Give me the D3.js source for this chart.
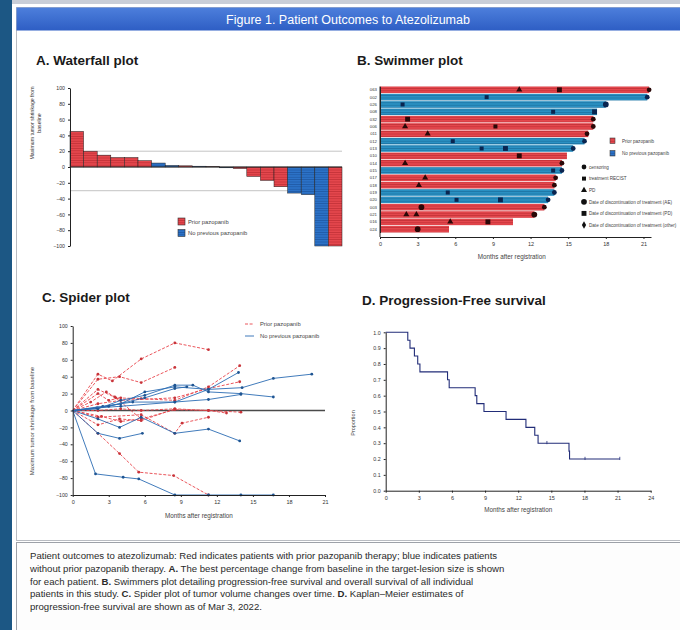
<!DOCTYPE html>
<html>
<head>
<meta charset="utf-8">
<script src="https://cdn.jsdelivr.net/npm/d3@7"></script>
<style>
    body { margin: 0; background: #fff; }
    svg { display: block; font-family: "Liberation Sans", Arial, sans-serif; }
</style>
</head>
<body>
<svg id="fig" width="680" height="630"></svg>
<script>

// ---- data ----

// A. waterfall: best % change per patient, sorted
const waterfallValues = [45, 20, 15, 12, 12, 8, 5, 2, 1.5, 1, 0.5, -1, -2, -12, -17, -25, -33, -35, -100, -100]
const waterfallGroups = ['prior', 'prior', 'prior', 'prior', 'prior', 'prior', 'none', 'none', 'prior', 'none',
    'prior', 'none', 'prior', 'prior', 'prior', 'prior', 'none', 'none', 'none', 'prior']
const waterfallTicks = [100, 80, 60, 40, 20, 0, -20, -40, -60, -80, -100]
const waterfallRefLines = [20, -30]

// B. swimmer: months on study per patient
const swimmerIds = ['063', '002', '026', '008', '032', '006', '011', '012', '013', '010',
    '014', '015', '017', '018', '019', '020', '003', '021', '016', '024']
const swimmerMonths = [21.45, 21.3, 18.0, 17.3, 17.0, 17.0, 16.6, 16.3, 15.4, 14.9,
    14.5, 14.5, 14.0, 13.9, 13.9, 13.4, 13.1, 12.3, 10.6, 5.5]
const swimmerGroups = ['prior', 'none', 'none', 'none', 'prior', 'prior', 'prior', 'none', 'none', 'prior',
    'prior', 'none', 'prior', 'prior', 'none', 'none', 'prior', 'prior', 'prior', 'prior']
const swimmerEvents = [
    [[11.1, 'pd'], [14.3, 'pdDisc'], [21.45, 'cens']],
    [[8.5, 'resp'], [21.3, 'cens']],
    [[1.8, 'resp'], [18.0, 'ae']],
    [[13.8, 'resp'], [17.1, 'pdDisc']],
    [[2.2, 'pdDisc'], [17.0, 'cens']],
    [[2.0, 'pd'], [9.2, 'resp'], [17.0, 'cens']],
    [[3.8, 'pd'], [16.5, 'cens']],
    [[5.8, 'resp'], [16.3, 'cens']],
    [[8.1, 'resp'], [10.0, 'pdDisc'], [15.4, 'cens']],
    [[11.1, 'pdDisc']],
    [[2.0, 'pd'], [14.5, 'cens']],
    [[13.8, 'resp'], [14.5, 'cens']],
    [[3.6, 'pd'], [14.0, 'cens']],
    [[3.1, 'pd'], [13.9, 'cens']],
    [[5.4, 'resp'], [13.9, 'cens']],
    [[6.1, 'resp'], [9.6, 'pdDisc'], [13.4, 'cens']],
    [[3.3, 'ae'], [13.1, 'cens']],
    [[2.1, 'pd'], [2.9, 'pd'], [12.3, 'ae']],
    [[5.6, 'pd'], [8.6, 'pdDisc']],
    [[3.0, 'ae']]
]
const swimmerTicks = [0, 3, 6, 9, 12, 15, 18, 21]
const swimmerEventTypes = ['cens', 'resp', 'pd', 'ae', 'pdDisc', 'other']
const swimmerEventLabels = ['censoring', 'treatment RECIST', 'PD',
    'Date of discontinuation of treatment (AE)',
    'Date of discontinuation of treatment (PD)',
    'Date of discontinuation of treatment (other)']

// C. spider: [month, % change] per patient
const spiderGroups = ['prior', 'prior', 'prior', 'prior', 'prior', 'prior', 'prior', 'prior', 'prior', 'prior', 'prior',
    'none', 'none', 'none', 'none', 'none', 'none', 'none', 'none']
const spiderPoints = [
    [[0, 0], [2.1, 43], [3.3, 35], [5.7, 61], [8.5, 80], [11.3, 72]],
    [[0, 0], [2.1, 37], [3.9, 40], [5.7, 33], [8.5, 51]],
    [[0, 0], [2.1, 25], [3.6, 15], [5.7, 14], [8.5, 12], [11.3, 28], [13.9, 53]],
    [[0, 0], [2.1, 8], [4.0, 12], [8.5, 15], [11.3, 26], [13.9, 34]],
    [[0, 0], [2.4, -7], [4.0, -13], [5.7, -10], [8.5, 1], [11.3, 0], [12.8, -3]],
    [[0, 0], [2.1, -17], [3.9, -10], [5.7, -12], [8.5, 2]],
    [[0, 0], [2.1, -27], [3.9, -51], [5.5, -73], [8.4, -77], [11.3, -100]],
    [[0, 0], [2.1, -8], [5.7, -5], [8.5, -27], [9.1, -15], [11.3, -8]],
    [[0, 0], [2.1, 20], [3.0, 12], [4.0, 15]],
    [[0, 0], [1.5, 10], [2.8, 22], [3.5, 16], [5.7, -10]],
    [[0, 0], [2.1, 0], [4.0, 2], [5.7, 0], [8.5, 2], [11.3, 0], [14.0, -2]],
    [[0, 0], [2.1, 3], [4.0, 8], [6.0, 22], [8.5, 28], [11.3, 25], [14.1, 27], [16.7, 38], [19.9, 43]],
    [[0, 0], [2.1, 2], [4.0, 12], [6.0, 18], [8.5, 30], [10.0, 30], [11.3, 22], [14.0, 20], [16.7, 16]],
    [[0, 0], [2.5, 5], [5.0, 10], [8.5, 10], [11.3, 13], [14.0, 19]],
    [[0, 0], [2.0, 3], [4.0, 5], [8.5, 10], [11.3, 25], [13.8, 45]],
    [[0, 0], [2.1, -27], [3.9, -33], [5.8, -27]],
    [[0, 0], [2.1, -10], [3.9, -20], [5.7, -8], [8.5, -27], [11.3, -22], [13.9, -36]],
    [[0, 0], [1.9, -75], [4.2, -79], [5.5, -81], [8.5, -100], [11.3, -100], [14.0, -100], [16.7, -100]],
    [[0, 0], [3.0, 5], [6.0, 15], [8.5, 26], [9.5, 28]]
]
const spiderXTicks = [0, 3, 6, 9, 12, 15, 18, 21]
const spiderYTicks = [100, 80, 60, 40, 20, 0, -20, -40, -60, -80, -100]

// D. Kaplan-Meier PFS
const kmTimes = [0, 2.0, 2.2, 2.6, 2.9, 3.1, 5.6, 5.75, 8.1, 8.25, 8.9, 10.9, 12.7, 13.5, 13.8, 16.6, 16.65, 21.2]
const kmSurv = [1.0, 0.95, 0.9, 0.85, 0.8, 0.75, 0.7, 0.65, 0.6, 0.55, 0.5, 0.45, 0.4, 0.35, 0.3, 0.25, 0.2, 0.2]
const kmCensorTimes = [14.6, 18.05, 21.2]
const kmXTicks = [0, 3, 6, 9, 12, 15, 18, 21, 24]
const kmYTicks = [1.0, 0.9, 0.8, 0.7, 0.6, 0.5, 0.4, 0.3, 0.2, 0.1, 0.0]

const groupLabels = { prior: 'Prior pazopanib', none: 'No previous pazopanib' }


const svg = d3.select('#fig')

const fill = { prior: 'url(#stripeRed)', none: 'url(#stripeBlue)' }
const swimFill = { prior: 'url(#stripeRed)', none: 'url(#stripeTeal)' }
const lineColor = { prior: '#e8434a', none: '#2b6cb3' }
const markColor = { prior: '#2a0808', none: '#0a2550' }

// striped fills, like the dense hatching in the original
const defs = svg.append('defs')
function stripe(id, base, line) {
    let p = defs.append('pattern').attr('id', id).attr('patternUnits', 'userSpaceOnUse')
        .attr('width', 4).attr('height', 2.4)
    p.append('rect').attr('width', 4).attr('height', 2.4).attr('fill', base)
    p.append('rect').attr('y', 1.6).attr('width', 4).attr('height', 0.8).attr('fill', line)
}
stripe('stripeRed', '#e4474d', '#c43238')
stripe('stripeBlue', '#2c72c7', '#1f5aa6')
stripe('stripeTeal', '#2a90c2', '#1d74a4')

let grad = defs.append('linearGradient').attr('id', 'titleGrad').attr('x1', 0).attr('x2', 0).attr('y1', 0).attr('y2', 1)
grad.append('stop').attr('offset', '0%').attr('stop-color', '#4d7fdc')
grad.append('stop').attr('offset', '100%').attr('stop-color', '#2e5ec4')

defs.append('clipPath').attr('id', 'clipB').append('rect')
    .attr('x', 340).attr('y', 30).attr('width', 338).attr('height', 250)

// ---- page frame ----
svg.append('rect').attr('width', 680).attr('height', 630).attr('fill', '#fff')
svg.append('rect').attr('width', 12).attr('height', 630).attr('fill', '#1c5784')
svg.append('rect').attr('x', 12).attr('width', 668).attr('height', 4).attr('fill', '#c9ced8')
svg.append('rect').attr('x', 16.5).attr('y', 7.5).attr('width', 670).attr('height', 533)
    .attr('fill', '#fff').attr('stroke', '#b9bcc2')
svg.append('rect').attr('x', 16.5).attr('y', 7.5).attr('width', 670).attr('height', 23).attr('fill', 'url(#titleGrad)')
svg.append('text').attr('x', 348).attr('y', 23.5).attr('text-anchor', 'middle')
    .attr('font-size', 12.5).attr('fill', '#fff').text('Figure 1. Patient Outcomes to Atezolizumab')
svg.append('rect').attr('x', 16.5).attr('y', 542.5).attr('width', 670).attr('height', 92)
    .attr('fill', '#fdfdfd').attr('stroke', '#9da1a8')

function panelTitle(x, y, t) {
    svg.append('text').attr('x', x).attr('y', y).attr('font-size', 13.5).attr('font-weight', 'bold')
        .attr('fill', '#1a1a1a').text(t)
}

function styleAxis(g, size) {
    g.attr('font-size', size).attr('font-family', '"Liberation Sans", Arial, sans-serif')
    g.selectAll('.tick text').attr('fill', '#333')
    g.selectAll('.tick line').attr('stroke', '#222')
    g.select('.domain').attr('stroke', '#222')
}

// ---- A. Waterfall ----
panelTitle(36, 65, 'A. Waterfall plot')

const xA = d3.scaleBand().domain(d3.range(waterfallValues.length)).range([70, 342])
const yA = d3.scaleLinear().domain([-100, 100]).range([246, 88])

const gA = svg.append('g')

waterfallRefLines.forEach(v => {
    gA.append('line').attr('x1', xA.range()[0]).attr('x2', xA.range()[1])
        .attr('y1', yA(v)).attr('y2', yA(v)).attr('stroke', '#aaa').attr('stroke-width', 0.7)
})

gA.selectAll('rect.bar').data(waterfallValues).join('rect').attr('class', 'bar')
    .attr('x', (d, i) => xA(i))
    .attr('width', xA.bandwidth())
    .attr('y', d => yA(Math.max(0, d)))
    .attr('height', d => Math.abs(yA(d) - yA(0)))
    .attr('fill', (d, i) => fill[waterfallGroups[i]])
    .attr('stroke', '#222').attr('stroke-width', 0.5)

gA.append('line').attr('x1', xA.range()[0]).attr('x2', xA.range()[1])
    .attr('y1', yA(0)).attr('y2', yA(0)).attr('stroke', '#222').attr('stroke-width', 0.9)

gA.append('g').attr('transform', `translate(${xA.range()[0]},0)`)
    .call(d3.axisLeft(yA).tickValues(waterfallTicks).tickSize(2).tickSizeOuter(0))
    .call(g => styleAxis(g, 5.2))

gA.append('text').attr('transform', `translate(34,123) rotate(-90)`).attr('text-anchor', 'middle')
    .attr('font-size', 5.2).attr('fill', '#333').text('Maximum tumor shrinkage from')
gA.append('text').attr('transform', `translate(41,123) rotate(-90)`).attr('text-anchor', 'middle')
    .attr('font-size', 5.2).attr('fill', '#333').text('baseline')

Object.keys(groupLabels).forEach((k, i) => {
    gA.append('rect').attr('x', 178).attr('y', 218 + i * 11.5).attr('width', 7).attr('height', 7)
        .attr('fill', fill[k]).attr('stroke', '#333').attr('stroke-width', 0.6)
    gA.append('text').attr('x', 188).attr('y', 223.5 + i * 11.5).attr('font-size', 5.8).attr('fill', '#444')
        .text(groupLabels[k])
})

// ---- B. Swimmer ----
panelTitle(357, 65, 'B. Swimmer plot')

const xB = d3.scaleLinear().domain([0, 21.6]).range([380, 651])
const yB = d3.scaleBand().domain(swimmerIds).range([86.5, 232.5]).paddingInner(0.1)
const axisYB = 237

const gB = svg.append('g').attr('clip-path', 'url(#clipB)')

gB.selectAll('rect.swim').data(swimmerMonths).join('rect').attr('class', 'swim')
    .attr('x', xB(0))
    .attr('y', (d, i) => yB(swimmerIds[i]))
    .attr('width', d => xB(d) - xB(0))
    .attr('height', yB.bandwidth())
    .attr('fill', (d, i) => swimFill[swimmerGroups[i]])

const symbolFor = {
    cens: d3.symbolCircle, resp: d3.symbolSquare, pd: d3.symbolTriangle,
    ae: d3.symbolCircle, pdDisc: d3.symbolSquare, other: d3.symbolDiamond
}
const sizeFor = { cens: 18, resp: 16, pd: 16, ae: 26, pdDisc: 24, other: 16 }

swimmerEvents.forEach((evs, i) => {
    gB.selectAll(null).data(evs).join('path')
        .attr('d', d => d3.symbol().type(symbolFor[d[1]]).size(sizeFor[d[1]])())
        .attr('transform', d => `translate(${xB(d[0])},${yB(swimmerIds[i]) + yB.bandwidth() / 2})`)
        .attr('fill', markColor[swimmerGroups[i]])
})

gB.append('g').attr('transform', `translate(0,${axisYB})`)
    .call(d3.axisBottom(xB).tickValues(swimmerTicks).tickSize(2).tickSizeOuter(0))
    .call(g => styleAxis(g, 5.5))

gB.append('g').attr('transform', `translate(${xB(0)},0)`)
    .call(d3.axisLeft(yB).tickSize(0).tickPadding(3))
    .call(g => styleAxis(g, 4.3))
gB.append('line').attr('x1', xB(0)).attr('x2', xB(0)).attr('y1', yB.range()[0]).attr('y2', axisYB)
    .attr('stroke', '#222')

gB.append('text').attr('x', xB(10.5)).attr('y', 259).attr('text-anchor', 'middle')
    .attr('font-size', 6.3).attr('fill', '#444').text('Months after registration')

Object.keys(groupLabels).forEach((k, i) => {
    gB.append('rect').attr('x', 610).attr('y', 138 + i * 12.5).attr('width', 5).attr('height', 5.5)
        .attr('fill', fill[k]).attr('stroke', '#444').attr('stroke-width', 0.6)
    gB.append('text').attr('x', 622).attr('y', 142.5 + i * 12.5).attr('font-size', 4.6).attr('fill', '#444')
        .text(groupLabels[k])
})

swimmerEventTypes.forEach((t, i) => {
    let y = 167 + i * 11.6
    gB.append('path').attr('d', d3.symbol().type(symbolFor[t]).size(sizeFor[t])())
        .attr('transform', `translate(584,${y})`).attr('fill', '#111')
    gB.append('text').attr('x', 589).attr('y', y + 1.7).attr('font-size', 4.6).attr('fill', '#444')
        .text(swimmerEventLabels[i])
})

// ---- C. Spider ----
panelTitle(42, 302, 'C. Spider plot')

const xC = d3.scaleLinear().domain([0, 21]).range([72.7, 325])
const yC = d3.scaleLinear().domain([-100, 100]).range([495, 326])

const gC = svg.append('g')

gC.append('line').attr('x1', xC(0)).attr('x2', xC(21)).attr('y1', yC(0)).attr('y2', yC(0))
    .attr('stroke', '#4a4a4a').attr('stroke-width', 1.6)

const spiderLine = d3.line().x(d => xC(d[0])).y(d => yC(d[1]))

spiderPoints.forEach((pts, i) => {
    let grp = spiderGroups[i]
    gC.append('path').attr('d', spiderLine(pts)).attr('fill', 'none')
        .attr('stroke', lineColor[grp]).attr('stroke-width', 0.9)
        .attr('stroke-dasharray', grp === 'prior' ? '3,1.6' : null)
    gC.selectAll(null).data(pts.slice(1)).join('circle')
        .attr('cx', d => xC(d[0])).attr('cy', d => yC(d[1])).attr('r', 1.4)
        .attr('fill', grp === 'prior' ? '#c8343a' : '#1f5592')
})

gC.append('g').attr('transform', `translate(${xC(0)},0)`)
    .call(d3.axisLeft(yC).tickValues(spiderYTicks).tickSize(2).tickSizeOuter(0))
    .call(g => styleAxis(g, 5.2))
gC.append('g').attr('transform', `translate(0,${yC(-100)})`)
    .call(d3.axisBottom(xC).tickValues(spiderXTicks).tickSize(2).tickSizeOuter(0))
    .call(g => styleAxis(g, 5.5))

gC.append('text').attr('transform', `translate(34,421) rotate(-90)`).attr('text-anchor', 'middle')
    .attr('font-size', 6).attr('fill', '#444').text('Maximum tumor shrinkage from baseline')
gC.append('text').attr('x', xC(10.5)).attr('y', 518).attr('text-anchor', 'middle')
    .attr('font-size', 6.3).attr('fill', '#444').text('Months after registration')

Object.keys(groupLabels).forEach((k, i) => {
    let y = 324 + i * 12
    gC.append('line').attr('x1', 245).attr('x2', 254).attr('y1', y).attr('y2', y)
        .attr('stroke', lineColor[k]).attr('stroke-width', 0.9)
        .attr('stroke-dasharray', k === 'prior' ? '3,1.6' : null)
    gC.append('text').attr('x', 260).attr('y', y + 2).attr('font-size', 5.8).attr('fill', '#444')
        .text(groupLabels[k])
})

// ---- D. Kaplan-Meier ----
panelTitle(362, 305, 'D. Progression-Free survival')

const xD = d3.scaleLinear().domain([0, 24]).range([385.7, 650.7])
const yD = d3.scaleLinear().domain([0, 1]).range([490.7, 332.3])

const gD = svg.append('g')

const kmLine = d3.line().curve(d3.curveStepAfter).x((d, i) => xD(d)).y((d, i) => yD(kmSurv[i]))
gD.append('path').attr('d', kmLine(kmTimes)).attr('fill', 'none')
    .attr('stroke', '#222d78').attr('stroke-width', 1.1)

gD.selectAll(null).data(kmCensorTimes).join('line')
    .attr('x1', d => xD(d)).attr('x2', d => xD(d))
    .attr('y1', d => yD(kmSurv[d3.bisectRight(kmTimes, d) - 1]) - 2.2)
    .attr('y2', d => yD(kmSurv[d3.bisectRight(kmTimes, d) - 1]) + 1)
    .attr('stroke', '#222d78').attr('stroke-width', 0.8)

gD.append('g').attr('transform', `translate(${xD(0)},0)`)
    .call(d3.axisLeft(yD).tickValues(kmYTicks).tickFormat(d3.format('.1f')).tickSize(2).tickSizeOuter(0))
    .call(g => styleAxis(g, 5.3))
gD.append('g').attr('transform', `translate(0,${yD(0)})`)
    .call(d3.axisBottom(xD).tickValues(kmXTicks).tickSize(2).tickSizeOuter(0))
    .call(g => styleAxis(g, 5.5))

gD.append('text').attr('transform', `translate(355,423) rotate(-90)`).attr('text-anchor', 'middle')
    .attr('font-size', 5.5).attr('fill', '#444').text('Proportion')
gD.append('text').attr('x', xD(12)).attr('y', 512).attr('text-anchor', 'middle')
    .attr('font-size', 6.3).attr('fill', '#444').text('Months  after registration')

// ---- caption ----
const captionLines = [
    [['Patient outcomes to atezolizumab: Red indicates patients with prior pazopanib therapy; blue indicates patients', false]],
    [['without prior pazopanib therapy. ', false], ['A.', true], [' The best percentage change from baseline in the target-lesion size is shown', false]],
    [['for each patient. ', false], ['B.', true], [' Swimmers plot detailing progression-free survival and overall survival of all individual', false]],
    [['patients in this study. ', false], ['C.', true], [' Spider plot of tumor volume changes over time. ', false], ['D.', true], [' Kaplan\u2013Meier estimates of', false]],
    [['progression-free survival are shown as of Mar 3, 2022.', false]]
]

captionLines.forEach((parts, i) => {
    let t = svg.append('text').attr('x', 30).attr('y', 559 + i * 12.8).attr('font-size', 9.6).attr('fill', '#2a2a2a')
    parts.forEach(p => t.append('tspan').attr('font-weight', p[1] ? 'bold' : null).text(p[0]))
})

</script>
</body>
</html>
